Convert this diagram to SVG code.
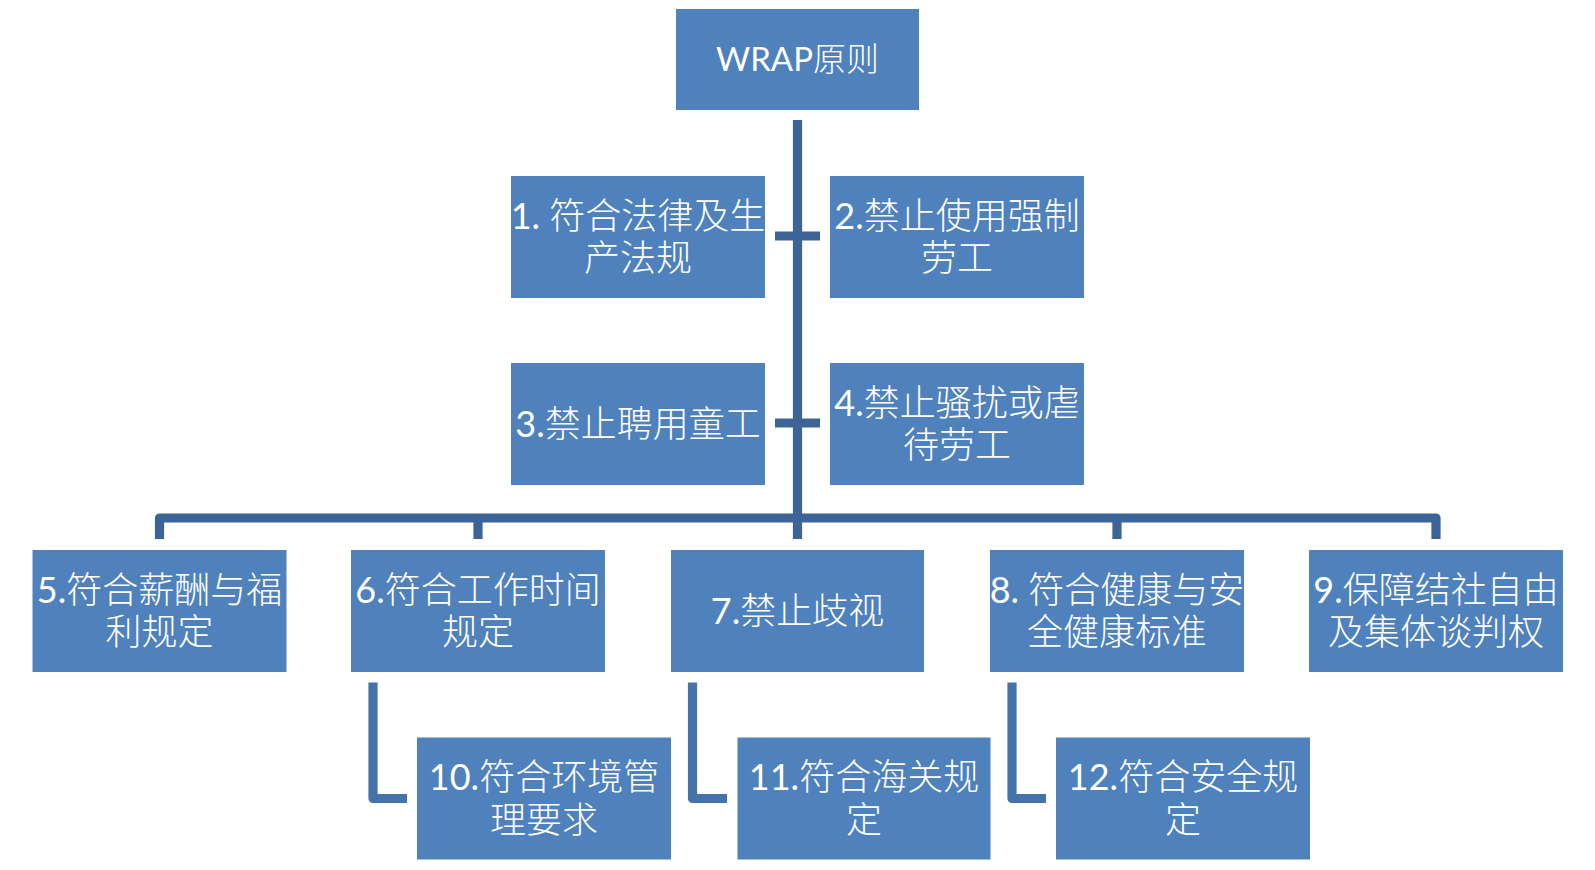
<svg xmlns="http://www.w3.org/2000/svg" width="1595" height="870" viewBox="0 0 1595 870">
<style>
.box{fill:#4F81BD;}
.t{fill:#FFFFFF;font-family:Lato,"Noto Sans CJK SC",sans-serif;font-size:36px;font-weight:300;text-anchor:middle;dominant-baseline:central;}
.tt{font-size:33px;}
.n{font-weight:400;}
.main{fill:none;stroke:#3D6496;stroke-width:9.2;stroke-linejoin:round;}
.sub{fill:none;stroke:#4672AA;stroke-width:9.2;stroke-linejoin:round;}
</style>
<rect width="1595" height="870" fill="#FFFFFF"/>
<g id="connectors">
<path class="main" d="M797.5,120 V539"/>
<path class="main" d="M775,236 H820"/>
<path class="main" d="M775,423 H820"/>
<path class="main" d="M159.5,539 V518 H1436 V539"/>
<path class="main" d="M478,518 V539"/>
<path class="main" d="M1117,518 V539"/>
<path class="sub" d="M373,682.5 V798.5 H407"/>
<path class="sub" d="M692.5,682.5 V798.5 H727"/>
<path class="sub" d="M1012,682.5 V798.5 H1046"/>
</g>
<g id="n0"><rect class="box" x="676" y="9" width="243" height="101"/><text class="t tt" x="797.5" y="58"><tspan class="n">WRAP</tspan>原则</text></g>
<g id="n1"><rect class="box" x="511" y="176" width="254" height="122"/><text class="t" x="638" y="214.5"><tspan class="n">1. </tspan>符合法律及生</text><text class="t" x="638" y="257">产法规</text></g>
<g id="n2"><rect class="box" x="830" y="176" width="254" height="122"/><text class="t" x="957" y="214.5"><tspan class="n">2.</tspan>禁止使用强制</text><text class="t" x="957" y="257">劳工</text></g>
<g id="n3"><rect class="box" x="511" y="363" width="254" height="122"/><text class="t" x="638" y="423"><tspan class="n">3.</tspan>禁止聘用童工</text></g>
<g id="n4"><rect class="box" x="830" y="363" width="254" height="122"/><text class="t" x="957" y="401.5"><tspan class="n">4.</tspan>禁止骚扰或虐</text><text class="t" x="957" y="444">待劳工</text></g>
<g id="n5"><rect class="box" x="32.5" y="550" width="254" height="122"/><text class="t" x="159.5" y="588.5"><tspan class="n">5.</tspan>符合薪酬与福</text><text class="t" x="159.5" y="631">利规定</text></g>
<g id="n6"><rect class="box" x="351" y="550" width="254" height="122"/><text class="t" x="478" y="588.5"><tspan class="n">6.</tspan>符合工作时间</text><text class="t" x="478" y="631">规定</text></g>
<g id="n7"><rect class="box" x="671" y="550" width="253" height="122"/><text class="t" x="797.5" y="610"><tspan class="n">7.</tspan>禁止歧视</text></g>
<g id="n8"><rect class="box" x="990" y="550" width="254" height="122"/><text class="t" x="1117" y="588.5"><tspan class="n">8. </tspan>符合健康与安</text><text class="t" x="1117" y="631">全健康标准</text></g>
<g id="n9"><rect class="box" x="1309" y="550" width="254" height="122"/><text class="t" x="1436" y="588.5"><tspan class="n">9.</tspan>保障结社自由</text><text class="t" x="1436" y="631">及集体谈判权</text></g>
<g id="n10"><rect class="box" x="417" y="737.5" width="254" height="122"/><text class="t" x="544" y="776"><tspan class="n">10.</tspan>符合环境管</text><text class="t" x="544" y="818.5">理要求</text></g>
<g id="n11"><rect class="box" x="737.5" y="737.5" width="253" height="122"/><text class="t" x="864" y="776"><tspan class="n">11.</tspan>符合海关规</text><text class="t" x="864" y="818.5">定</text></g>
<g id="n12"><rect class="box" x="1056" y="737.5" width="254" height="122"/><text class="t" x="1183" y="776"><tspan class="n">12.</tspan>符合安全规</text><text class="t" x="1183" y="818.5">定</text></g>
</svg>
